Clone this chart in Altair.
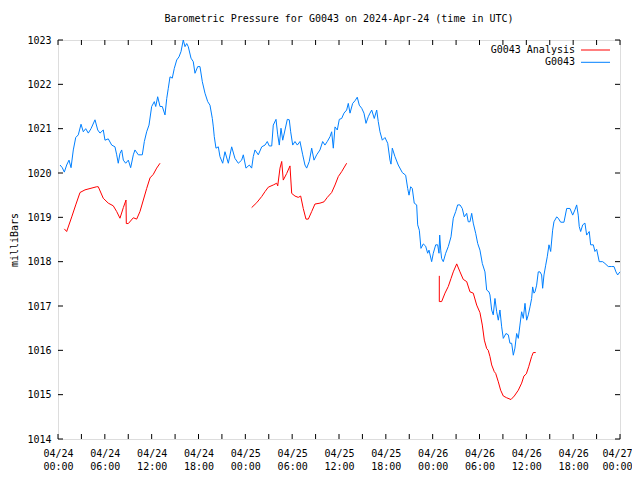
import altair as alt
import pandas as pd

# ---- data (hours since 2024-04-24 00:00 UTC, pressure in mb) ----
blue_h = [0.26, 0.55, 0.81, 1.11, 1.41, 1.67, 1.96, 2.27, 2.60, 2.95, 3.24, 3.55, 3.88, 4.23, 4.74,
          5.09, 5.38, 5.80, 6.02, 6.44, 6.88, 7.30, 7.52, 7.72, 7.94, 8.16, 8.37, 8.67, 9.01, 9.31,
          9.65, 9.86, 10.29, 10.80, 11.06, 11.36, 11.66, 12.00, 12.34, 12.52, 12.77, 13.07, 13.36,
          13.71, 13.93, 14.13, 14.35, 14.64, 14.90, 15.21, 15.50, 15.76, 16.05, 16.27, 16.49, 16.69,
          17.04, 17.33, 17.55, 17.90, 18.19, 18.49, 18.83, 19.18, 19.47, 19.77, 19.90, 20.02, 20.24,
          20.54, 20.75, 21.10, 21.39, 21.82, 22.25, 22.67, 23.10, 23.53, 23.74, 24.08, 24.51, 24.81,
          25.02, 25.24, 25.66, 26.10, 26.52, 26.81, 27.07, 27.38, 27.58, 27.93, 28.15, 28.35, 28.57,
          28.79, 29.08, 29.38, 29.63, 29.81, 30.07, 30.36, 30.66, 31.00, 31.35, 31.64, 31.86, 32.19,
          32.50, 32.80, 33.14, 33.56, 33.91, 34.20, 34.50, 34.85, 35.06, 35.27, 35.49, 35.78, 36.04,
          36.34, 36.64, 36.98, 37.19, 37.41, 37.75, 38.05, 38.34, 38.60, 38.91, 39.20, 39.46, 39.75,
          39.97, 40.19, 40.52, 40.83, 41.03, 41.25, 41.55, 41.89, 42.24, 42.53, 42.66, 42.83, 43.17,
          43.59, 44.11, 44.54, 44.80, 44.97, 45.18, 45.39, 45.64, 45.95, 46.08, 46.29, 46.50, 46.80,
          47.10, 47.36, 47.53, 47.87, 48.08, 48.39, 48.64, 48.81, 48.90, 49.03, 49.15, 49.36, 49.67,
          50.00, 50.35, 50.64, 50.95, 51.20, 51.50, 51.79, 52.05, 52.36, 52.56, 52.78, 53.00, 53.20,
          53.51, 53.77, 54.06, 54.36, 54.70, 54.92, 55.21, 55.34, 55.56, 55.76, 55.98, 56.20, 56.41,
          56.62, 56.84, 57.05, 57.39, 57.69, 57.90, 58.12, 58.33, 58.54, 58.76, 58.97, 59.18, 59.40,
          59.61, 59.83, 60.04, 60.25, 60.47, 60.68, 60.81, 60.98, 61.11, 61.32, 61.53, 61.75, 61.96,
          62.09, 62.26, 62.48, 62.68, 62.90, 63.12, 63.37, 63.54, 63.89, 64.09, 64.40, 64.82, 65.17,
          65.59, 65.94, 66.23, 66.45, 66.65, 66.78, 66.96, 67.22, 67.51, 67.73, 68.06, 68.24, 68.58,
          68.79, 69.01, 69.34, 69.78, 70.07, 70.50, 70.93, 71.23, 71.48, 71.70, 71.99]
blue_v = [1020.18, 1020.12, 1020.02, 1020.18, 1020.29, 1020.12, 1020.52, 1020.80, 1020.86, 1021.10,
          1020.93, 1021.00, 1020.90, 1021.00, 1021.20, 1020.97, 1020.90, 1020.97, 1020.74, 1020.77,
          1020.63, 1020.59, 1020.41, 1020.22, 1020.44, 1020.52, 1020.29, 1020.22, 1020.29, 1020.12,
          1020.41, 1020.52, 1020.41, 1020.41, 1020.71, 1020.93, 1021.08, 1021.50, 1021.61, 1021.50,
          1021.72, 1021.50, 1021.50, 1021.31, 1021.68, 1021.91, 1022.17, 1022.14, 1022.36, 1022.55,
          1022.62, 1022.74, 1023.00, 1022.85, 1022.92, 1022.85, 1022.59, 1022.51, 1022.25, 1022.40,
          1022.40, 1022.06, 1021.80, 1021.61, 1021.53, 1021.23, 1021.04, 1020.82, 1020.56, 1020.59,
          1020.37, 1020.22, 1020.48, 1020.22, 1020.59, 1020.33, 1020.22, 1020.29, 1020.41, 1020.11,
          1020.18, 1020.11, 1020.37, 1020.52, 1020.41, 1020.59, 1020.63, 1020.71, 1020.61, 1020.61,
          1021.08, 1021.21, 1020.86, 1020.63, 1021.01, 1020.74, 1020.97, 1021.21, 1021.20, 1020.93,
          1020.63, 1020.71, 1020.63, 1020.71, 1020.41, 1020.18, 1020.11, 1020.26, 1020.56, 1020.29,
          1020.41, 1020.52, 1020.71, 1020.63, 1020.71, 1020.82, 1020.93, 1020.56, 1021.04, 1020.97,
          1021.21, 1021.23, 1021.35, 1021.42, 1021.57, 1021.35, 1021.57, 1021.63, 1021.71, 1021.53,
          1021.46, 1021.35, 1021.12, 1021.27, 1021.35, 1021.42, 1021.23, 1021.42, 1021.16, 1020.93,
          1020.74, 1020.80, 1020.67, 1020.29, 1020.20, 1020.56, 1020.37, 1020.18, 1020.01, 1019.95,
          1019.65, 1019.50, 1019.69, 1019.65, 1019.32, 1019.28, 1018.83, 1018.71, 1018.30, 1018.40,
          1018.35, 1018.19, 1018.26, 1018.00, 1018.19, 1018.38, 1018.38, 1018.19, 1018.60, 1018.26,
          1018.07, 1018.00, 1018.19, 1018.34, 1018.56, 1018.98, 1019.13, 1019.28, 1019.28, 1019.20,
          1019.01, 1019.09, 1018.90, 1018.90, 1019.09, 1018.87, 1018.64, 1018.41, 1018.26, 1017.96,
          1017.77, 1017.36, 1017.32, 1017.25, 1016.91, 1016.80, 1017.17, 1016.87, 1016.68, 1016.91,
          1016.53, 1016.27, 1016.38, 1016.35, 1016.16, 1016.16, 1015.89, 1016.05, 1016.38, 1016.27,
          1016.57, 1016.87, 1016.72, 1017.06, 1016.68, 1016.80, 1016.98, 1017.17, 1017.43, 1017.29,
          1017.32, 1017.47, 1017.77, 1017.77, 1017.70, 1017.40, 1017.70, 1017.92, 1018.11, 1018.38,
          1018.23, 1018.71, 1018.90, 1019.01, 1018.98, 1018.89, 1018.89, 1019.20, 1019.20, 1019.05,
          1019.17, 1019.28, 1019.05, 1018.79, 1018.68, 1018.83, 1018.87, 1018.60, 1018.68, 1018.38,
          1018.38, 1018.23, 1018.28, 1018.00, 1018.00, 1017.96, 1017.89, 1017.89, 1017.89, 1017.77,
          1017.70, 1017.77]

red1_h = [0.81, 1.11, 1.76, 2.27, 2.82, 3.46, 4.10, 4.96, 5.16, 5.80, 6.44, 7.08, 7.52, 7.94, 8.37,
          8.71, 8.75, 9.01, 9.65, 10.08, 10.50, 10.93, 11.36, 11.79, 12.21, 12.64, 13.07]
red1_v = [1018.74, 1018.68, 1019.01, 1019.28, 1019.56, 1019.62, 1019.65, 1019.69, 1019.69, 1019.43,
          1019.32, 1019.26, 1019.13, 1018.98, 1019.22, 1019.39, 1018.86, 1018.86, 1018.99, 1018.96,
          1019.13, 1019.39, 1019.65, 1019.89, 1019.97, 1020.11, 1020.22]
red2_h = [24.81, 25.46, 26.10, 26.52, 26.94, 27.58, 28.02, 28.15, 28.44, 28.66, 28.86, 29.30, 29.72,
          29.94, 30.36, 30.78, 31.09, 31.42, 31.77, 32.07, 32.50, 32.92, 33.56, 34.08, 34.50, 35.06,
          35.49, 35.91, 36.34, 36.98]
red2_v = [1019.22, 1019.33, 1019.47, 1019.58, 1019.68, 1019.73, 1019.77, 1019.71, 1020.11, 1020.26,
          1019.84, 1019.99, 1020.16, 1019.54, 1019.48, 1019.45, 1019.48, 1019.20, 1018.96, 1018.96,
          1019.13, 1019.30, 1019.32, 1019.35, 1019.45, 1019.56, 1019.73, 1019.92, 1020.03, 1020.22]
red3_h = [48.85, 48.85, 49.15, 49.58, 50.00, 50.35, 50.64, 51.08, 51.50, 51.92, 52.36, 52.78, 53.20,
          53.64, 54.06, 54.36, 54.62, 54.92, 55.12, 55.34, 55.56, 55.89, 56.07, 56.41, 56.71, 57.05,
          57.48, 58.03, 58.46, 58.97, 59.40, 59.69, 60.00, 60.30, 60.68, 60.89, 61.20]
red3_v = [1017.68, 1017.10, 1017.10, 1017.29, 1017.44, 1017.62, 1017.77, 1017.95, 1017.77, 1017.60,
          1017.55, 1017.32, 1017.29, 1017.02, 1016.85, 1016.57, 1016.23, 1016.04, 1016.00, 1015.86,
          1015.67, 1015.52, 1015.48, 1015.29, 1015.10, 1014.97, 1014.93, 1014.89, 1014.97, 1015.10,
          1015.26, 1015.42, 1015.47, 1015.63, 1015.86, 1015.95, 1015.95]

x_tick_hours = list(range(0, 73, 3))
x_label_hours = list(range(0, 73, 6))
y_ticks = list(range(1014, 1024))
series_names = ["G0043 Analysis", "G0043"]
series_colors = ["#ff0000", "#0080ff"]
title_text = "Barometric Pressure for G0043 on 2024-Apr-24 (time in UTC)"
y_title = "milliBars"

FONT = "DejaVu Sans Mono"
W, H = 562, 399
TL = 5  # tick length

blue_df = pd.DataFrame({"h": blue_h, "p": blue_v, "i": range(len(blue_h))})
red_parts = []
for k, (hh, vv) in enumerate([(red1_h, red1_v), (red2_h, red2_v), (red3_h, red3_v)]):
    red_parts.append(pd.DataFrame({"h": hh, "p": vv, "seg": k, "i": range(len(hh))}))
red_df = pd.concat(red_parts, ignore_index=True)

xs = alt.Scale(domain=[0, 72], nice=False, zero=False)
ys = alt.Scale(domain=[1014, 1023], nice=False, zero=False)

label_expr = ("['04/' + (24 + floor(datum.value / 24)), "
              "(datum.value % 24 < 10 ? '0' : '') + (datum.value % 24) + ':00']")
x_axis = alt.Axis(values=x_label_hours, labelExpr=label_expr, ticks=False, domain=False,
                  grid=False, title=None, labelFont=FONT, labelFontSize=10, labelColor="black",
                  labelPadding=9, labelLineHeight=13, labelFlush=False, labelOverlap=False,
                  labelOffset={"condition": {"test": "datum.value == 72", "value": -3}, "value": 0})
y_axis = alt.Axis(values=y_ticks, format="d", ticks=False, domain=False, grid=False, title=y_title,
                  labelFont=FONT, labelFontSize=10, labelColor="black", labelPadding=7,
                  titleFont=FONT, titleFontSize=10, titleFontWeight="normal", titleColor="black",
                  titleX=-44, titleY=H / 2, titleAngle=270, titleAlign="center",
                  titleBaseline="middle", labelFlush=False, labelOverlap=False)

X = alt.X("h:Q", scale=xs, axis=x_axis)
Y = alt.Y("p:Q", scale=ys, axis=y_axis)

blue = alt.Chart(blue_df).mark_line(color=series_colors[1], strokeWidth=1).encode(
    x=X, y=Y, order="i:Q")
red = alt.Chart(red_df).mark_line(color=series_colors[0], strokeWidth=1).encode(
    x=X, y=Y, detail="seg:N", order="i:Q")

xt_df = pd.DataFrame({"h": x_tick_hours})
yt_df = pd.DataFrame({"p": y_ticks})
xt_bottom = alt.Chart(xt_df).mark_rule(color="black", strokeWidth=1).encode(
    x=X, y=alt.value(H - TL), y2=alt.value(H))
xt_top = alt.Chart(xt_df).mark_rule(color="black", strokeWidth=1).encode(
    x=X, y=alt.value(0), y2=alt.value(TL))
yt_left = alt.Chart(yt_df).mark_rule(color="black", strokeWidth=1).encode(
    y=Y, x=alt.value(0), x2=alt.value(TL))
yt_right = alt.Chart(yt_df).mark_rule(color="black", strokeWidth=1).encode(
    y=Y, x=alt.value(W - TL), x2=alt.value(W))

legend_layers = []
for k, (name, col) in enumerate(zip(series_names, series_colors)):
    ly = 10 + k * 12.3
    ldf = pd.DataFrame({"name": [name]})
    legend_layers.append(alt.Chart(ldf).mark_text(
        align="right", baseline="middle", font=FONT, fontSize=10, color="black").encode(
        text="name:N", x=alt.value(517), y=alt.value(ly)))
    legend_layers.append(alt.Chart(ldf).mark_rule(color=col, strokeWidth=1).encode(
        x=alt.value(523), x2=alt.value(552), y=alt.value(ly)))

chart = alt.layer(blue, red, xt_bottom, xt_top, yt_left, yt_right, *legend_layers).properties(
    width=W, height=H,
    title=alt.TitleParams(title_text, font=FONT, fontSize=10, fontWeight="normal",
                          color="black", anchor="middle", offset=11),
    autosize=alt.AutoSizeParams(type="none"),
    padding={"left": 50, "top": 32, "right": 12, "bottom": 31},
).configure_view(stroke="black", strokeWidth=1).configure(background="white")

chart.save("out.html", embed_options={"renderer": "svg", "actions": False})
